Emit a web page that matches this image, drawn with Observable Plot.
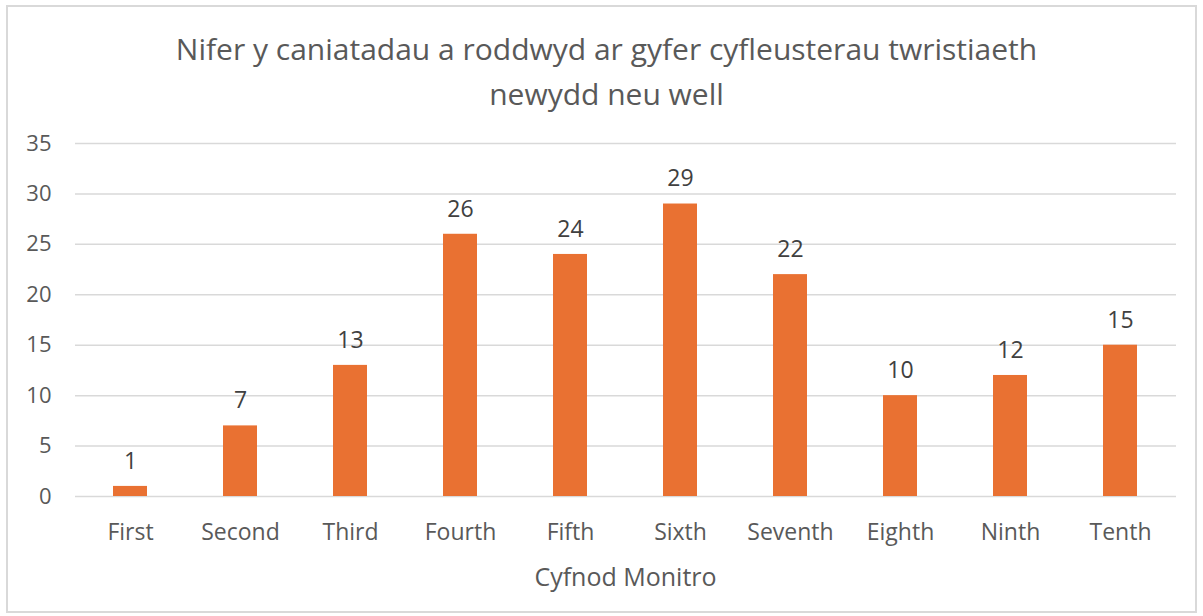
<!DOCTYPE html>
<html><head><meta charset="utf-8">
<script src="https://cdn.jsdelivr.net/npm/d3@7"></script>
<script src="https://cdn.jsdelivr.net/npm/@observablehq/plot@0.6"></script>
<style>
body{margin:0;background:#fff;font-family:"Open Sans",sans-serif;}
#wrap{position:relative;width:1203px;height:616px;overflow:hidden;background:#fff}
#frame{position:absolute;left:6px;top:5px;width:1187px;height:604px;border:2px solid #d9d9d9;}
#title{position:absolute;left:0;width:1213px;top:26px;text-align:center;font-size:30px;line-height:45px;color:#595959}
#xlabel{position:absolute;left:75px;width:1101px;top:559px;text-align:center;font-size:25px;line-height:34px;color:#595959}
#chart{position:absolute;left:0;top:0}
</style></head>
<body>
<div id="wrap">
<div id="frame"></div>
<div id="title">Nifer y caniatadau a roddwyd ar gyfer cyfleusterau twristiaeth<br>newydd neu well</div>
<div id="chart"></div>
<div id="xlabel">Cyfnod Monitro</div>
</div>
<script>
const periods = ["First","Second","Third","Fourth","Fifth","Sixth","Seventh","Eighth","Ninth","Tenth"];
const permits = [1,7,13,26,24,29,22,10,12,15];
const yTicks = [0,5,10,15,20,25,30,35];

const data = periods.map((p,i)=>({period:p, value:permits[i]}));

const chart = Plot.plot({
  width:1203, height:616,
  marginLeft:75, marginRight:27, marginTop:143, marginBottom:120,
  x:{domain:periods, paddingInner:0.69, paddingOuter:0.345, align:0.5, label:null},
  y:{domain:[0,35], label:null},
  style:{fontFamily:"'Open Sans', sans-serif", fontSize:"23px", color:"#595959", background:"transparent"},
  marks:[
    Plot.gridY(yTicks,{stroke:"#d9d9d9", strokeOpacity:1, strokeWidth:1.5}),
    Plot.axisY(yTicks,{tickSize:0, tickPadding:24, label:null, fontSize:22, fill:"#595959"}),
    Plot.axisX({tickSize:0, tickPadding:27, label:null, fontSize:23, fill:"#595959"}),
    Plot.barY(data,{x:"period", y:"value", fill:"#E97132"}),
    Plot.text(data,{x:"period", y:"value", text:d=>String(d.value), dy:-25, fontSize:23, fill:"#404040"})
  ]
});
document.getElementById("chart").appendChild(chart);
</script>
</body></html>
